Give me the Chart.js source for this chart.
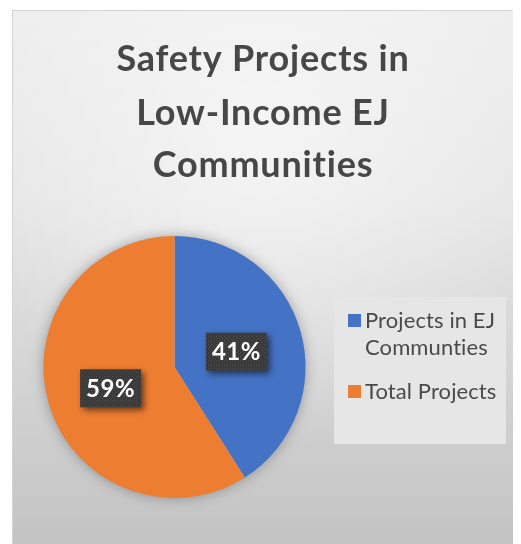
<!DOCTYPE html>
<html>
<head>
<meta charset="utf-8">
<script src="https://cdn.jsdelivr.net/npm/chart.js@4.4.1/dist/chart.umd.min.js"></script>
<style>
  html, body { margin: 0; padding: 0; background: #ffffff; }
  canvas { display: block; }
</style>
</head>
<body>
<canvas id="c" width="521" height="544"></canvas>
<script>
// ---- data ----
const titleLines = ["Safety Projects in", "Low-Income EJ", "Communities"];
const categories = [["Projects in EJ", "Communties"], ["Total Projects"]];
const values = [41, 59];
const colors = ["#4472C4", "#ED7D31"];

// ---- background panel ----
const panelPlugin = {
  id: 'panel',
  beforeDraw(chart) {
    const ctx = chart.ctx;
    ctx.save();
    ctx.fillStyle = '#ffffff';
    ctx.fillRect(0, 0, chart.width, chart.height);
    const x0 = 12, y0 = 10, x1 = 513, y1 = 544;
    const lg = ctx.createLinearGradient(0, y0, 0, y1);
    lg.addColorStop(0, '#eeeeee');
    lg.addColorStop(0.35, '#e6e6e6');
    lg.addColorStop(1, '#c3c3c3');
    ctx.fillStyle = lg;
    ctx.fillRect(x0, y0, x1 - x0, y1 - y0);
    const rg = ctx.createRadialGradient(262, 150, 0, 262, 150, 300);
    rg.addColorStop(0, 'rgba(255,255,255,0.55)');
    rg.addColorStop(1, 'rgba(255,255,255,0)');
    ctx.fillStyle = rg;
    ctx.fillRect(x0, y0, x1 - x0, y1 - y0);
    ctx.strokeStyle = '#d4d4d4';
    ctx.lineWidth = 1;
    ctx.beginPath();
    ctx.moveTo(x0 + 0.5, y1);
    ctx.lineTo(x0 + 0.5, y0 + 0.5);
    ctx.lineTo(x1 - 0.5, y0 + 0.5);
    ctx.stroke();

    // title
    ctx.fillStyle = '#474747';
    ctx.font = 'bold 36px Lato, "Open Sans", sans-serif';
    if ('letterSpacing' in ctx) ctx.letterSpacing = '0.8px';
    ctx.textAlign = 'center';
    ctx.textBaseline = 'alphabetic';
    const baselines = [71, 125, 177];
    titleLines.forEach((t, i) => ctx.fillText(t, 263, baselines[i]));
    if ('letterSpacing' in ctx) ctx.letterSpacing = '0px';

    // legend box
    ctx.fillStyle = '#e6e6e6';
    ctx.fillRect(334, 297, 172, 147);
    ctx.restore();
  }
};

// ---- pie shadow ----
const shadowPlugin = {
  id: 'pieShadow',
  beforeDatasetsDraw(chart) {
    const arc = chart.getDatasetMeta(0).data[0];
    if (!arc) return;
    const ctx = chart.ctx;
    ctx.save();
    ctx.shadowColor = 'rgba(0,0,0,0.35)';
    ctx.shadowBlur = 14;
    ctx.fillStyle = '#cccccc';
    ctx.beginPath();
    ctx.arc(arc.x, arc.y, arc.outerRadius - 1, 0, Math.PI * 2);
    ctx.fill();
    ctx.restore();
  }
};

// ---- legend ----
const legendPlugin = {
  id: 'customLegend',
  afterDraw(chart) {
    const ctx = chart.ctx;
    ctx.save();
    ctx.font = '22px Lato, "Open Sans", sans-serif';
    if ('letterSpacing' in ctx) ctx.letterSpacing = '0.1px';
    ctx.textBaseline = 'alphabetic';
    ctx.textAlign = 'left';
    const starts = [328, 399];
    const lineH = 27;
    chart.data.labels.forEach((lab, i) => {
      const lines = Array.isArray(lab) ? lab : [lab];
      const b = starts[i];
      ctx.fillStyle = chart.data.datasets[0].backgroundColor[i];
      ctx.fillRect(348, b - 14, 13, 13);
      ctx.fillStyle = '#4a4a4a';
      lines.forEach((l, j) => ctx.fillText(l, 365, b + j * lineH));
    });
    ctx.restore();
  }
};

// ---- data labels ----
function makePattern(ctx) {
  const c = document.createElement('canvas');
  c.width = 4; c.height = 4;
  const p = c.getContext('2d');
  p.fillStyle = '#3a3a3a';
  p.fillRect(0, 0, 4, 4);
  p.fillStyle = '#505050';
  p.fillRect(0, 0, 1, 1);
  p.fillRect(2, 2, 1, 1);
  return ctx.createPattern(c, 'repeat');
}
const labelPlugin = {
  id: 'pctLabels',
  afterDatasetsDraw(chart) {
    const ctx = chart.ctx;
    const ds = chart.data.datasets[0];
    const total = ds.data.reduce((a, b) => a + b, 0);
    const meta = chart.getDatasetMeta(0);
    const pat = makePattern(ctx);
    meta.data.forEach((arc, i) => {
      const pos = arc.tooltipPosition();
      const txt = Math.round(ds.data[i] / total * 100) + '%';
      const cx = pos.x - 1, cy = pos.y + 3;
      const w = 61, h = 38;
      ctx.save();
      ctx.shadowColor = 'rgba(0,0,0,0.55)';
      ctx.shadowBlur = 6;
      ctx.shadowOffsetX = 3;
      ctx.shadowOffsetY = 3;
      ctx.fillStyle = pat;
      ctx.fillRect(cx - w / 2, cy - h / 2, w, h);
      ctx.restore();
      ctx.save();
      ctx.fillStyle = '#ffffff';
      ctx.font = 'bold 24px Lato, "Open Sans", sans-serif';
      if ('letterSpacing' in ctx) ctx.letterSpacing = '0.5px';
      ctx.textAlign = 'center';
      ctx.textBaseline = 'middle';
      ctx.fillText(txt, cx, cy + 1);
      ctx.restore();
    });
  }
};

new Chart(document.getElementById('c'), {
  type: 'pie',
  data: {
    labels: categories,
    datasets: [{
      data: values,
      backgroundColor: colors,
      borderWidth: 0,
      hoverOffset: 0
    }]
  },
  options: {
    responsive: false,
    devicePixelRatio: 1,
    animation: false,
    layout: { padding: { left: 43, right: 215, top: 236, bottom: 46 } },
    plugins: {
      legend: { display: false },
      title: { display: false },
      tooltip: { enabled: false }
    }
  },
  plugins: [panelPlugin, shadowPlugin, legendPlugin, labelPlugin]
});
</script>
</body>
</html>
